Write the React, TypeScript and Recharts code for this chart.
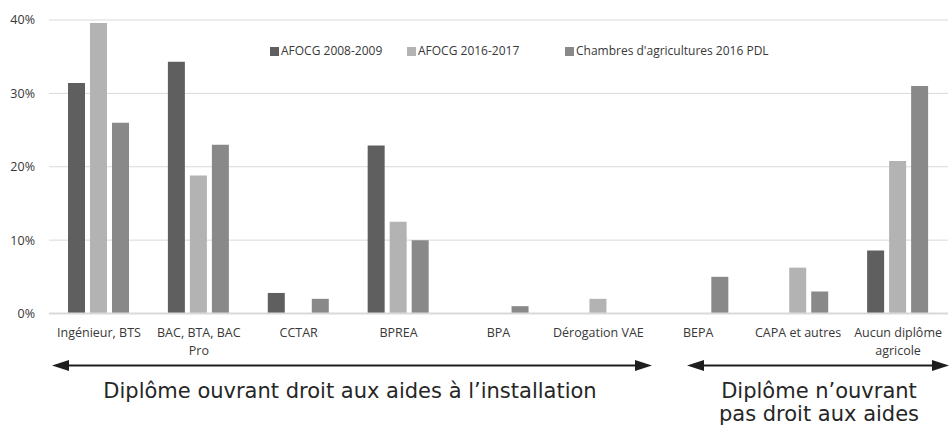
import { BarChart, Bar, XAxis, YAxis, CartesianGrid } from 'recharts'

// line breaks follow the reference's wrapped axis labels
const categories = [
  'Ingénieur, BTS',
  'BAC, BTA, BAC\nPro',
  'CCTAR',
  'BPREA',
  'BPA',
  'Dérogation VAE',
  'BEPA',
  'CAPA et autres',
  'Aucun diplôme\nagricole',
]
const afocg2008 = [31.4, 34.3, 2.8, 22.9, 0, 0, 0, 0, 8.6]
const afocg2016 = [39.6, 18.8, 0, 12.5, 0, 2.0, 0, 6.25, 20.8]
const chambres2016 = [26.0, 23.0, 2.0, 10.0, 1.0, 0, 5.0, 3.0, 31.0]
const yTicks = [0, 10, 20, 30, 40]

const SERIES = [
  { key: 'a2008', name: 'AFOCG 2008-2009', color: '#5f5f5f', values: afocg2008 },
  { key: 'a2016', name: 'AFOCG 2016-2017', color: '#b3b3b3', values: afocg2016 },
  { key: 'ch2016', name: "Chambres d'agricultures 2016 PDL", color: '#898989', values: chambres2016 },
]
const legendLefts = [270, 407, 565]

const data = categories.map((name, i) => {
  const row: Record<string, string | number> = { name }
  SERIES.forEach((s) => { row[s.key] = s.values[i] })
  return row
})

const FONT = '"Open Sans", sans-serif'
const BIG_FONT = '"DejaVu Sans", sans-serif'
const TEXT = '#383838'

function CategoryTick({ x, y, payload }: any) {
  const lines = String(payload.value).split('\n')
  return (
    <text x={x} y={y + 23.5} textAnchor="middle" fontSize={12.5} fontFamily={FONT} fill={TEXT}>
      {lines.map((l, i) => (
        <tspan key={i} x={x} dy={i === 0 ? 0 : 17.5}>{l}</tspan>
      ))}
    </text>
  )
}

function LegendBox() {
  return (
    <>
      {SERIES.map((s, i) => (
        <div
          key={s.key}
          style={{
            position: 'absolute', top: 42, left: legendLefts[i], display: 'flex', alignItems: 'center',
            fontFamily: FONT, fontSize: 12, color: TEXT, whiteSpace: 'nowrap', lineHeight: '18px',
          }}
        >
          <span style={{ width: 9, height: 9, background: s.color, marginRight: 2, display: 'inline-block' }} />
          {s.name}
        </div>
      ))}
    </>
  )
}

function Arrow({ x1, x2, y }: { x1: number; x2: number; y: number }) {
  const len = 17
  const half = 5.5
  return (
    <g fill="#1e1e1e" stroke="#1e1e1e">
      <line x1={x1 + len - 2} x2={x2 - len + 2} y1={y} y2={y} strokeWidth={2} />
      <polygon points={`${x1},${y} ${x1 + len},${y - half} ${x1 + len},${y + half}`} stroke="none" />
      <polygon points={`${x2},${y} ${x2 - len},${y - half} ${x2 - len},${y + half}`} stroke="none" />
    </g>
  )
}

export default function App() {
  return (
    <div style={{ position: 'fixed', top: 0, left: 0, width: 949, height: 426, background: '#fff' }}>
      <BarChart
        width={949}
        height={426}
        data={data}
        margin={{ top: 20, right: 1, bottom: 0, left: 0 }}
        barSize={17}
        barGap={5}
      >
        <CartesianGrid vertical={false} stroke="#d9d9d9" strokeWidth={1} />
        <XAxis
          dataKey="name"
          height={112.5}
          tickLine={false}
          tickSize={0}
          tickMargin={0}
          axisLine={{ stroke: '#d9d9d9', strokeWidth: 2 }}
          tick={<CategoryTick />}
          interval={0}
        />
        <YAxis
          width={49}
          domain={[0, 40]}
          ticks={yTicks}
          tickFormatter={(v: number) => `${v}%`}
          axisLine={false}
          tickLine={false}
          tickSize={0}
          tickMargin={14}
          tick={{ fontSize: 12.5, fontFamily: FONT, fill: TEXT }}
        />
        {SERIES.map((s) => (
          <Bar key={s.key} dataKey={s.key} name={s.name} fill={s.color} isAnimationActive={false} />
        ))}
      </BarChart>
      <LegendBox />
      <svg width={949} height={426} style={{ position: 'absolute', top: 0, left: 0, pointerEvents: 'none' }}>
        <Arrow x1={52} x2={652} y={365.5} />
        <Arrow x1={687} x2={949} y={365.5} />
        <text x={350} y={398} textAnchor="middle" fontFamily={BIG_FONT} fontSize={21} fill="#262626">
          Diplôme ouvrant droit aux aides à l’installation
        </text>
        <text x={819} y={398} textAnchor="middle" fontFamily={BIG_FONT} fontSize={21} fill="#262626">
          Diplôme n’ouvrant
        </text>
        <text x={819} y={421} textAnchor="middle" fontFamily={BIG_FONT} fontSize={21} fill="#262626">
          pas droit aux aides
        </text>
      </svg>
    </div>
  )
}
